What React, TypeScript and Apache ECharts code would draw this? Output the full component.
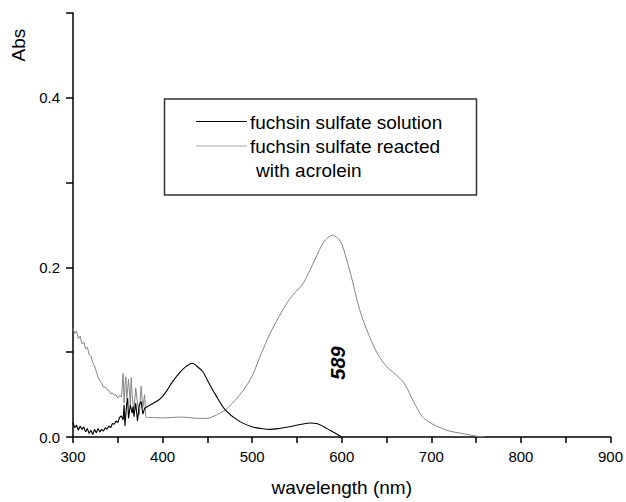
import React, { useEffect, useRef } from "react";
import * as echarts from "echarts";

// fuchsin sulfate solution (black) — noisy UV part and smooth part
const solutionNoisyNm = [
  300, 302, 304, 306, 308, 310, 312, 314, 316, 318, 320, 322, 324, 326, 328, 330, 332, 334, 336, 338,
  340, 342, 344, 346, 348, 350, 352, 354, 356, 357, 358, 360, 361, 362, 364, 366, 367, 368, 370, 372,
  374, 376, 378, 380,
];
const solutionNoisyAbs = [
  0.017, 0.011, 0.014, 0.008, 0.013, 0.009, 0.012, 0.006, 0.010, 0.004, 0.008, 0.003, 0.009, 0.005, 0.010, 0.006, 0.009, 0.007, 0.011, 0.009,
  0.013, 0.011, 0.016, 0.015, 0.019, 0.017, 0.023, 0.025, 0.020, 0.038, 0.013, 0.040, 0.046, 0.022, 0.038, 0.028, 0.036, 0.024, 0.040, 0.019,
  0.038, 0.042, 0.027, 0.034,
];
const solutionNm = [
  380, 385, 390, 396, 400, 405, 411, 420, 426, 433, 440, 445, 450, 459, 470, 485, 500, 510, 520, 530, 540,
  555, 565, 572, 580, 585, 592, 600,
];
const solutionAbs = [
  0.034, 0.037, 0.040, 0.044, 0.048, 0.055, 0.065, 0.077, 0.083, 0.087, 0.082, 0.077, 0.067, 0.050, 0.032, 0.019, 0.012, 0.010, 0.009, 0.010, 0.0117,
  0.015, 0.0165, 0.016, 0.012, 0.009, 0.005, 0.0,
];

// fuchsin sulfate reacted with acrolein (gray) — noisy UV part and smooth part
const reactedNoisyNm = [
  300, 302, 304, 306, 308, 310, 312, 314, 316, 318, 320, 322, 324, 326, 328, 330, 332, 334, 336, 338,
  340, 342, 344, 346, 348, 350, 352, 354, 356, 357, 358, 359, 360, 362, 364, 365, 366, 368, 370, 372,
  374, 376, 378, 380, 381, 382,
];
const reactedNoisyAbs = [
  0.128, 0.122, 0.125, 0.116, 0.119, 0.110, 0.112, 0.104, 0.106, 0.097, 0.095, 0.088, 0.084, 0.077, 0.071, 0.066, 0.064, 0.059, 0.059, 0.056,
  0.055, 0.051, 0.052, 0.049, 0.050, 0.046, 0.049, 0.047, 0.075, 0.040, 0.060, 0.071, 0.045, 0.068, 0.038, 0.070, 0.050, 0.030, 0.058, 0.040,
  0.026, 0.060, 0.035, 0.050, 0.026, 0.023,
];
const reactedNm = [
  382, 385, 400, 420, 440, 450, 460, 470, 480, 490, 500, 510, 520, 530, 540, 550, 555, 560, 570, 580, 590, 595,
  600, 610, 620, 630, 640, 650, 660, 670, 680, 690, 700, 710, 720, 730, 740, 750, 760,
];
const reactedAbs = [
  0.023, 0.023, 0.0225, 0.0235, 0.022, 0.022, 0.026, 0.032, 0.042, 0.055, 0.072, 0.098, 0.122, 0.142, 0.160, 0.173, 0.178, 0.187, 0.209, 0.230, 0.238, 0.235,
  0.228, 0.192, 0.150, 0.121, 0.098, 0.083, 0.074, 0.063, 0.042, 0.024, 0.016, 0.011, 0.007, 0.005, 0.003, 0.001, 0.0,
];

const seriesNames = ["fuchsin sulfate solution", "fuchsin sulfate reacted", "with acrolein"];
const peakLabel = "589";
const xTitle = "wavelength (nm)";
const yTitle = "Abs";

const FONT = "Liberation Sans, Arial, Helvetica, sans-serif";
const BLACK = "#000000";
const GRAY = "#858585";

export default function App() {
  const ref = useRef<HTMLDivElement>(null);
  useEffect(() => {
    if (!ref.current) return;
    const chart = echarts.init(ref.current, null, { renderer: "svg" });
    const pair = (xs: number[], ys: number[]) => xs.map((x, i) => [x, ys[i]]);
    const reactedName = seriesNames[1] + " " + seriesNames[2];
    chart.setOption({
      animation: false,
      backgroundColor: "#ffffff",
      textStyle: { fontFamily: FONT },
      grid: { left: 73, right: 12, top: 13, bottom: 63, containLabel: false },
      xAxis: {
        type: "value",
        min: 300,
        max: 900,
        interval: 50,
        name: xTitle,
        nameLocation: "middle",
        nameGap: 41,
        nameTextStyle: { fontSize: 19, color: "#000", fontFamily: FONT },
        axisLine: { show: true, onZero: false, lineStyle: { color: "#000", width: 1.5 } },
        axisTick: { show: true, inside: false, length: 6, lineStyle: { color: "#000", width: 1.5 } },
        axisLabel: {
          margin: 12,
          fontSize: 15,
          color: "#000",
          fontFamily: FONT,
          formatter: (v: number) => (Math.round(v) % 100 === 0 ? String(Math.round(v)) : ""),
        },
        splitLine: { show: false },
      },
      yAxis: {
        type: "value",
        min: 0,
        max: 0.5,
        interval: 0.1,
        axisLine: { show: true, onZero: false, lineStyle: { color: "#000", width: 1.5 } },
        axisTick: { show: true, inside: false, length: 7, lineStyle: { color: "#000", width: 1.5 } },
        axisLabel: {
          margin: 13,
          fontSize: 15,
          color: "#000",
          fontFamily: FONT,
          formatter: (v: number) => (Math.round(v * 10) % 2 === 0 ? v.toFixed(1) : ""),
        },
        splitLine: { show: false },
      },
      series: [
        {
          name: reactedName,
          type: "line",
          data: pair(reactedNoisyNm, reactedNoisyAbs),
          showSymbol: false,
          smooth: false,
          lineStyle: { color: GRAY, width: 1 },
          z: 2,
        },
        {
          name: reactedName,
          type: "line",
          data: pair(reactedNm, reactedAbs),
          showSymbol: false,
          smooth: 0.3,
          lineStyle: { color: GRAY, width: 1 },
          z: 2,
        },
        {
          name: seriesNames[0],
          type: "line",
          data: pair(solutionNoisyNm, solutionNoisyAbs),
          showSymbol: false,
          smooth: false,
          lineStyle: { color: BLACK, width: 1.1 },
          z: 3,
        },
        {
          name: seriesNames[0],
          type: "line",
          data: pair(solutionNm, solutionAbs),
          showSymbol: false,
          smooth: 0.3,
          lineStyle: { color: BLACK, width: 1.1 },
          z: 3,
        },
      ],
      graphic: [
        {
          type: "text",
          x: 18,
          y: 45,
          rotation: Math.PI / 2,
          style: {
            text: yTitle,
            fontSize: 19,
            fill: "#000",
            fontFamily: FONT,
            align: "center",
            verticalAlign: "middle",
          },
        },
        {
          type: "text",
          x: 338,
          y: 363,
          rotation: Math.PI / 2,
          style: {
            text: peakLabel,
            fontSize: 20,
            fontWeight: "bold",
            fontStyle: "italic",
            fill: "#000",
            fontFamily: FONT,
            align: "center",
            verticalAlign: "middle",
          },
        },
        {
          type: "rect",
          shape: { x: 164.5, y: 99, width: 312, height: 96 },
          style: { fill: "transparent", stroke: "#333", lineWidth: 1.5 },
        },
        {
          type: "line",
          shape: { x1: 196, y1: 121.5, x2: 247, y2: 121.5 },
          style: { stroke: "#000", lineWidth: 1.2 },
        },
        {
          type: "line",
          shape: { x1: 196, y1: 146, x2: 247, y2: 146 },
          style: { stroke: "#aaaaaa", lineWidth: 1.2 },
        },
        {
          type: "text",
          x: 250,
          y: 122,
          style: { text: seriesNames[0], fontSize: 19, fill: "#000", fontFamily: FONT, verticalAlign: "middle" },
        },
        {
          type: "text",
          x: 250,
          y: 146,
          style: { text: seriesNames[1], fontSize: 19, fill: "#000", fontFamily: FONT, verticalAlign: "middle" },
        },
        {
          type: "text",
          x: 256,
          y: 170,
          style: { text: seriesNames[2], fontSize: 19, fill: "#000", fontFamily: FONT, verticalAlign: "middle" },
        },
      ],
    });
    return () => chart.dispose();
  }, []);
  return (
    <div
      ref={ref}
      style={{ position: "fixed", left: 0, top: 0, width: 626, height: 502, background: "#fff" }}
    />
  );
}
